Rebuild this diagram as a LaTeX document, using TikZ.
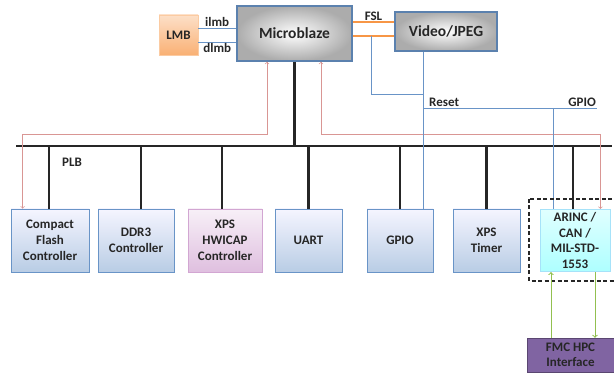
\documentclass[tikz,border=0pt]{standalone}
\usepackage{fontspec}
\setmainfont{Carlito}
\usepackage{xcolor}
\usepackage{tikz}
\usetikzlibrary{shapes.geometric, arrows}

\definecolor{txt}{HTML}{262626}
\definecolor{blueline}{HTML}{4F81BD}
\definecolor{redline}{HTML}{D99694}
\definecolor{fslline}{HTML}{F79646}
\definecolor{greenline}{HTML}{92C050}
\definecolor{fmcfill}{HTML}{8064A2}

\tikzset{
	periph/.style={draw=blueline!85, line width=0.8pt, top color=blue!4!white, bottom color=blueline!40, text=txt, font=\fontsize{13}{16}\selectfont\bfseries, align=center, minimum height=63pt},
	core/.style={draw=blueline!75!gray, line width=1.6pt, inner color=white, outer color=gray!65, text=txt, font=\fontsize{15.5}{18}\selectfont\bfseries},
	lbl/.style={text=txt, font=\fontsize{13}{15}\selectfont\bfseries, inner sep=1pt},
	drop/.style={line width=2.2pt, black!85},
	sig/.style={blueline!85, line width=0.7pt},
	ctrl/.style={redline, line width=0.7pt, <->, >=to},
	ext/.style={greenline, line width=1pt, ->, >=to},
}

\begin{document}
\begin{tikzpicture}[x=1pt, y=-1pt]
	\useasboundingbox (0,0) rectangle (614,377);
	\clip (0,0) rectangle (614,377);

	% processor side
	\node[core, minimum width=115pt, minimum height=55pt] (mb) at (294.5,33.5) {Microblaze};
	\node[core, minimum width=102pt, minimum height=39pt] (vj) at (446,31.5) {Video/JPEG};
	\node[draw=fslline!50, top color=fslline!30, bottom color=fslline!75, text=txt, font=\fontsize{13}{15}\selectfont\bfseries, minimum width=39pt, minimum height=40pt] (lmb) at (178.5,35) {LMB};

	\draw[sig] ([yshift=5.5pt]mb.west) -- ([yshift=5.5pt]mb.west -| lmb.east) node[lbl, midway, above] {ilmb};
	\draw[sig] ([yshift=-8.5pt]mb.west) -- ([yshift=-8.5pt]mb.west -| lmb.east) node[lbl, midway, below] {dlmb};
	\draw[fslline, line width=1.5pt] ([yshift=11.5pt]mb.east) -- ([yshift=11.5pt]mb.east -| vj.west) node[lbl, midway, above] {FSL};
	\draw[fslline, line width=1.5pt] ([yshift=-2.5pt]mb.east) -- ([yshift=-2.5pt]mb.east -| vj.west);

	% PLB bus
	\coordinate (plbL) at (16,146);
	\coordinate (plbR) at (612,146);
	\draw[line width=2.2pt, black!85] (plbL) -- (plbR);
	\node[lbl] (plb) at (72,162) {PLB};
	\draw[drop] (mb.south) -- (mb.south |- plbL);

	% peripherals
	\node[periph, minimum width=78pt] (cf) at (50,240.5) {Compact\\Flash\\Controller};
	\node[periph, minimum width=76pt] (ddr) at (136,240.5) {DDR3\\Controller};
	\node[periph, minimum width=74pt, draw=violet!35, top color=violet!6, bottom color=violet!25] (icap) at (225,240.5) {XPS\\HWICAP\\Controller};
	\node[periph, minimum width=67pt] (uart) at (308.5,240.5) {UART};
	\node[periph, minimum width=66pt] (gpio) at (400,240.5) {GPIO};
	\node[periph, minimum width=67pt] (tmr) at (486.5,240.5) {XPS\\Timer};
	\node[periph, minimum width=70pt, minimum height=61pt, draw=cyan!35, top color=cyan!12, bottom color=cyan!32, font=\fontsize{13}{15.5}\selectfont\bfseries] (arinc) at (575,240.5) {ARINC /\\CAN /\\MIL-STD-\\1553};
	\node[draw=fmcfill!70!black, fill=fmcfill, text=txt, font=\fontsize{13}{15}\selectfont\bfseries, align=center, minimum width=87pt, minimum height=34pt] (fmc) at (570.5,355) {FMC HPC\\Interface};

	\draw[drop] (cf.north -| 49,0) -- (49,146);
	\draw[drop] (ddr.north -| 141,0) -- (141,146);
	\draw[drop] (icap.north -| 222,0) -- (222,146);
	\draw[drop] (uart.north) -- (uart.north |- plbL);
	\draw[drop] (gpio.north) -- (gpio.north |- plbL);
	\draw[drop] (tmr.north) -- (tmr.north |- plbL);
	\draw[drop] ([xshift=-2pt]arinc.north) -- ([xshift=-2pt]arinc.north |- plbL);

	% control lines
	\draw[ctrl] ([xshift=-27.5pt]mb.south) -- ++(0,73) -| ([xshift=12pt]cf.north west);
	\draw[ctrl] ([xshift=26.5pt]mb.south) -- ++(0,73) -| ([xshift=-10pt]arinc.north east);

	% reset / gpio
	\coordinate (tap) at (371,36);
	\coordinate (rstL) at (423,108);
	\coordinate (rstR) at (597,108);
	\draw[sig] ([xshift=-23pt]vj.south) -- ([xshift=-23pt]vj.south |- gpio.north);
	\draw[sig] (tap) |- ([xshift=-23pt]vj.south |- 0,94);
	\draw[sig] (rstL) -- (rstR);
	\node[lbl, anchor=south west] at ([xshift=5pt]rstL) {Reset};
	\node[lbl, anchor=south east] at (rstR) {GPIO};
	\draw[sig] (553,108) -- (553,0 |- arinc.north);

	% mezzanine
	\draw[black!85, line width=1.4pt, dash pattern=on 4pt off 2.5pt] (529,199) rectangle (625,281);
	\draw[ext] ([xshift=-24pt]arinc.south |- fmc.north) -- ([xshift=-24pt]arinc.south);
	\draw[ext] ([xshift=20pt]arinc.south) -- ([xshift=20pt]arinc.south |- fmc.north);
\end{tikzpicture}
\end{document}
